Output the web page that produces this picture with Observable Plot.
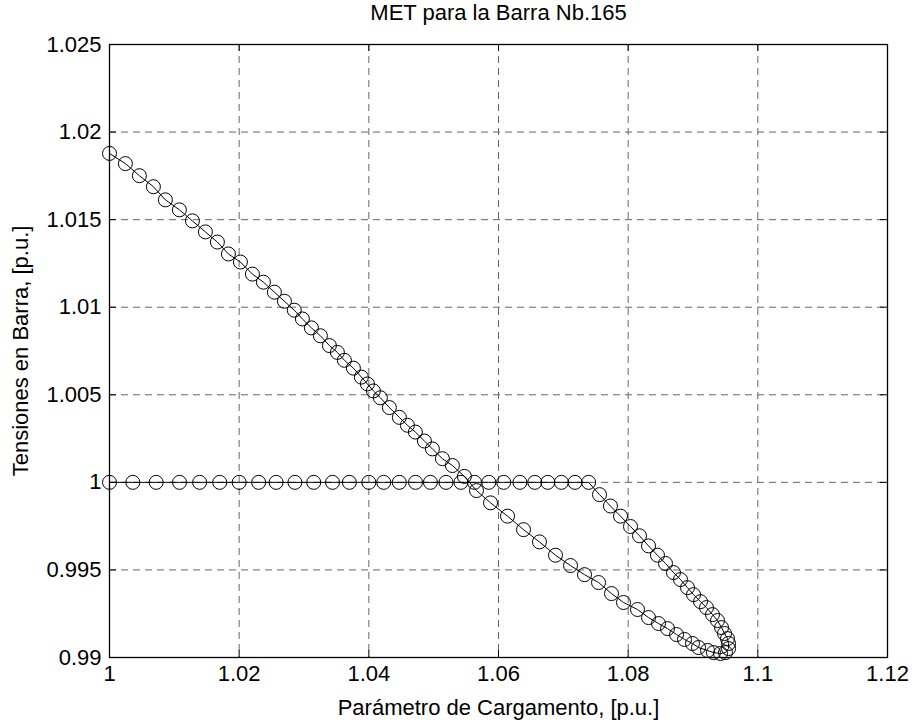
<!DOCTYPE html>
<html><head><meta charset="utf-8">
<script src="https://cdn.jsdelivr.net/npm/d3@7"></script>
<script src="https://cdn.jsdelivr.net/npm/@observablehq/plot@0.6"></script>
<style>html,body{margin:0;padding:0;background:#fff} svg{display:block}</style>
</head><body><div id="chart"></div>
<script>
// Flat part (voltage held at 1.0 p.u.)
const flatLambda = [1.0000, 1.0036, 1.0072, 1.0108, 1.0139, 1.0170, 1.0200, 1.0230, 1.0257, 1.0286,
  1.0315, 1.0344, 1.0370, 1.0400, 1.0423, 1.0447, 1.0472, 1.0495, 1.0519, 1.0542,
  1.0563, 1.0585, 1.0608, 1.0633, 1.0656, 1.0676, 1.0697, 1.0718, 1.0739];
const flatVoltage = [1, 1, 1, 1, 1, 1, 1, 1, 1, 1, 1, 1, 1, 1, 1, 1, 1, 1, 1, 1,
  1, 1, 1, 1, 1, 1, 1, 1, 1];
// Upper branch, from end of flat part down to the nose
const upperLambda = [1.07558, 1.07727, 1.07882, 1.08036, 1.08175, 1.08314, 1.08452, 1.08576, 1.08699, 1.08807,
  1.08915, 1.09008, 1.09116, 1.09208, 1.09301, 1.09378, 1.09440, 1.09486, 1.09532, 1.09548,
  1.09548, 1.09501];
const upperVoltage = [0.99930, 0.99865, 0.99807, 0.99748, 0.99695, 0.99637, 0.99584, 0.99537, 0.99485, 0.99445,
  0.99399, 0.99359, 0.99319, 0.99285, 0.99245, 0.99211, 0.99171, 0.99137, 0.99108, 0.99080,
  0.99051, 0.99028];
// Lower branch, from the nose back to lambda = 1
const lowerLambda = [1.09424, 1.09316, 1.09224, 1.09085, 1.08992, 1.08869, 1.08746, 1.08607, 1.08468, 1.08314,
  1.08144, 1.07928, 1.07743, 1.07543, 1.07327, 1.07111, 1.06879, 1.06632, 1.06386, 1.06139,
  1.05877, 1.05661, 1.05474, 1.05289, 1.05135, 1.04980, 1.04857, 1.04718, 1.04595, 1.04471,
  1.04317, 1.04178, 1.04071, 1.03978, 1.03885, 1.03762, 1.03623, 1.03515, 1.03392, 1.03253,
  1.03114, 1.02975, 1.02850, 1.02698, 1.02543, 1.02374, 1.02204, 1.02019, 1.01834, 1.01664,
  1.01479, 1.01279, 1.01078, 1.00862, 1.00677, 1.00461, 1.00245, 1.00000];
const lowerVoltage = [0.99023, 0.99028, 0.99040, 0.99057, 0.99080, 0.99103, 0.99131, 0.99165, 0.99194, 0.99228,
  0.99274, 0.99314, 0.99365, 0.99428, 0.99473, 0.99525, 0.99584, 0.99660, 0.99730, 0.99807,
  0.99883, 0.99953, 1.00034, 1.00096, 1.00135, 1.00191, 1.00236, 1.00287, 1.00326, 1.00371,
  1.00427, 1.00483, 1.00522, 1.00562, 1.00601, 1.00652, 1.00697, 1.00742, 1.00781, 1.00837,
  1.00882, 1.00933, 1.00983, 1.01034, 1.01086, 1.01143, 1.01189, 1.01258, 1.01304, 1.01372,
  1.01430, 1.01493, 1.01556, 1.01613, 1.01688, 1.01751, 1.01820, 1.01878];

const xTicks = [1, 1.02, 1.04, 1.06, 1.08, 1.1, 1.12];
const xTickLabels = ["1", "1.02", "1.04", "1.06", "1.08", "1.1", "1.12"];
const yTicks = [0.99, 0.995, 1, 1.005, 1.01, 1.015, 1.02, 1.025];
const yTickLabels = ["0.99", "0.995", "1", "1.005", "1.01", "1.015", "1.02", "1.025"];
const titleText = "MET para la Barra Nb.165";
const xLabelText = "Parámetro de Cargamento, [p.u.]";
const yLabelText = "Tensiones en Barra, [p.u.]";

const lambda = [...flatLambda, ...upperLambda, ...lowerLambda];
const voltage = [...flatVoltage, ...upperVoltage, ...lowerVoltage];
const data = lambda.map((l, i) => ({lambda: l, v: voltage[i]}));

const W = 915, H = 726, mL = 109, mR = 28, mT = 44, mB = 69;
const fw = W - mL - mR, fh = H - mT - mB, tick = 7;
const FS = 22;
const grid = {stroke: "#666", strokeOpacity: 1, strokeWidth: 1, strokeDasharray: "7,5"};

const chart = Plot.plot({
  width: W, height: H,
  marginLeft: mL, marginRight: mR, marginTop: mT, marginBottom: mB,
  style: {fontFamily: "'Liberation Sans', Arial, sans-serif", fontSize: FS + "px", color: "black", background: "white"},
  x: {domain: [1, 1.12]},
  y: {domain: [0.99, 1.025]},
  marks: [
    Plot.gridX(xTicks, grid),
    Plot.gridY(yTicks, grid),
    Plot.ruleX(xTicks, {stroke: "black", insetTop: fh - tick}),
    Plot.ruleX(xTicks, {stroke: "black", insetBottom: fh - tick}),
    Plot.ruleY(yTicks, {stroke: "black", insetRight: fw - tick}),
    Plot.ruleY(yTicks, {stroke: "black", insetLeft: fw - tick}),
    Plot.frame({stroke: "black", strokeWidth: 1.3}),
    Plot.line(data, {x: "lambda", y: "v", stroke: "black", strokeWidth: 1}),
    Plot.dot(data, {x: "lambda", y: "v", r: 7, stroke: "black", fill: "none", strokeWidth: 1}),
    Plot.axisX({ticks: xTicks, tickFormat: d => xTickLabels[xTicks.indexOf(d)], tickSize: 0, tickPadding: 8, label: null, fontSize: FS}),
    Plot.axisY({ticks: yTicks, tickFormat: d => yTickLabels[yTicks.indexOf(d)], tickSize: 0, tickPadding: 8, label: null, fontSize: FS}),
    Plot.text([titleText], {frameAnchor: "top", dy: -40, fontSize: FS}),
    Plot.text([xLabelText], {frameAnchor: "bottom", dy: 57, fontSize: FS}),
    Plot.text([yLabelText], {frameAnchor: "left", dx: -89, rotate: -90, textAnchor: "middle", fontSize: FS})
  ]
});
document.getElementById("chart").appendChild(chart);
</script>
</body></html>
